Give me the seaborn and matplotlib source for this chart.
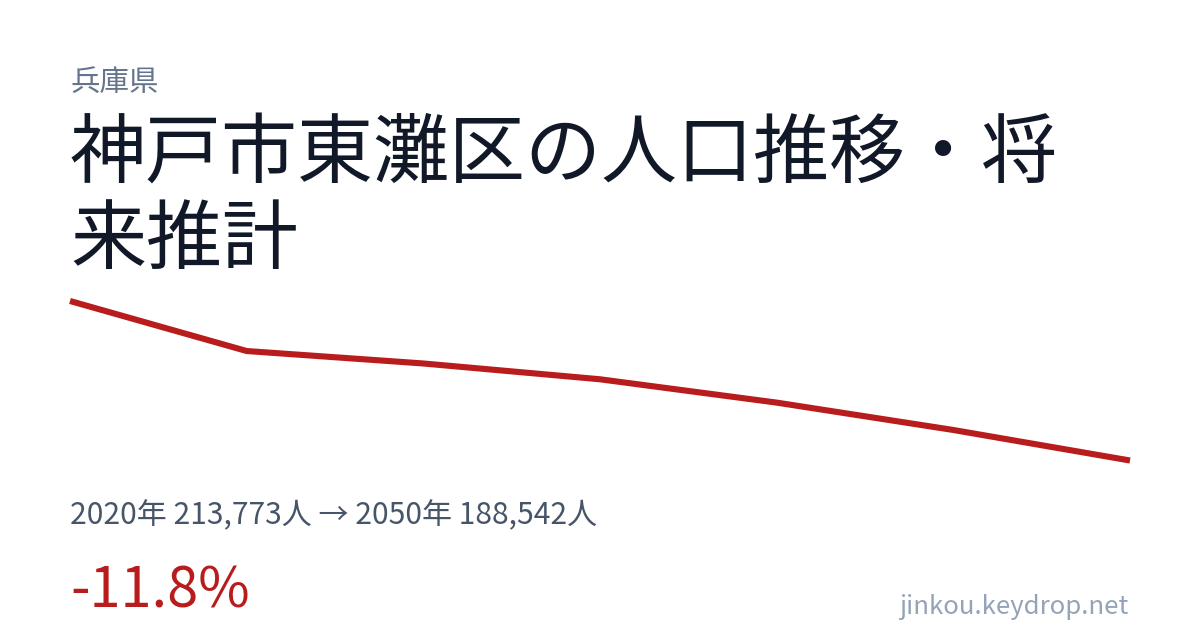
import matplotlib
matplotlib.use("Agg")
import matplotlib.pyplot as plt
import seaborn as sns
import pandas as pd

years = [2020, 2025, 2030, 2035, 2040, 2045, 2050]
population = [213773, 205860, 203890, 201390, 197700, 193370, 188542]

prefecture = "兵庫県"
title_line1 = "神戸市東灘区の人口推移・将"
title_line2 = "来推計"
summary = "2020年 213,773人 → 2050年 188,542人"
change = "-11.8%"
site = "jinkou.keydrop.net"

sns.set_theme(style="white")
plt.rcParams["font.family"] = ["Noto Sans CJK JP", "DejaVu Sans"]

W, H = 1200, 630
fig = plt.figure(figsize=(W / 100, H / 100), dpi=100)
fig.patch.set_facecolor("white")

def fx(px):
    return px / W

def fy(py):
    return 1 - py / H

ax = fig.add_axes([fx(70), fy(460.5), fx(1130) - fx(70), fy(301) - fy(460.5)])
df = pd.DataFrame({"year": years, "population": population})
sns.lineplot(data=df, x="year", y="population", ax=ax, color="#b91c1c",
             linewidth=4.4, clip_on=False)
for ln in ax.lines:
    ln.set_solid_capstyle("butt")
    ln.set_solid_joinstyle("round")
ax.set_xlim(min(years), max(years))
ax.set_ylim(min(population), max(population))
ax.axis("off")

def px2pt(p):
    return p * 72 / 100

fig.text(fx(70), fy(90.5), prefecture, fontsize=px2pt(29.5), color="#64748b", va="baseline", ha="left")
fig.text(fx(70), fy(177), title_line1, fontsize=px2pt(76), color="#111827", va="baseline", ha="left")
fig.text(fx(70), fy(263), title_line2, fontsize=px2pt(76), color="#111827", va="baseline", ha="left")
fig.text(fx(70), fy(524), summary, fontsize=px2pt(30), color="#475569", va="baseline", ha="left")
fig.text(fx(70), fy(608), change, fontsize=px2pt(56), color="#b91c1c", va="baseline", ha="left")
fig.text(fx(1128), fy(614), site, fontsize=px2pt(25.8), color="#94a3b8", va="baseline", ha="right")

fig.savefig("out.png", dpi=100, facecolor="white")
